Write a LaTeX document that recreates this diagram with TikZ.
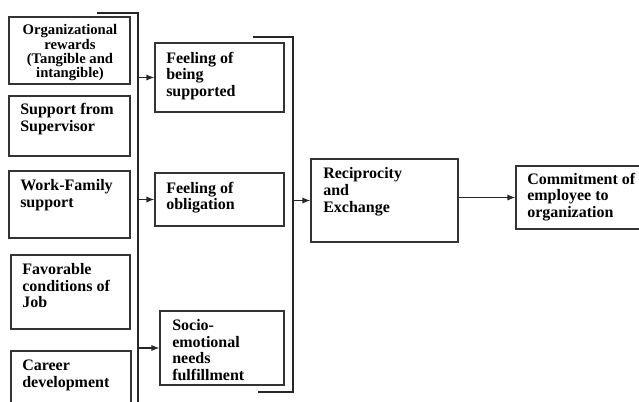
\documentclass[tikz,border=0pt]{standalone}
\usepackage{fontspec}
\setmainfont{Liberation Serif}
\usetikzlibrary{fit,arrows.meta}
\begin{document}
\begin{tikzpicture}[x=0.75pt,y=-0.75pt,
  box/.style={draw=black!80,line width=0.8pt,inner sep=0pt},
  txt/.style={anchor=north west,inner sep=0pt,align=left,font=\fontsize{12}{12.5}\selectfont\bfseries},
  ln/.style={draw=black!85,line width=0.8pt},
  arr/.style={ln,-{Latex[length=6pt,width=4.5pt]}}]
\useasboundingbox (0,0) rectangle (639,401);

% boxes on the left
\node[box,fit={(9,17) (130,84)}] (rew) {};
\node[box,fit={(9,96) (130,156)}] (sup) {};
\node[box,fit={(9,171) (130,238)}] (wf) {};
\node[box,fit={(11,255) (130,329)}] (fav) {};
\node[box,fit={(11,351) (131,412)}] (car) {};

\node[anchor=north,inner sep=0pt,align=center,font=\fontsize{11}{10.6}\selectfont\bfseries] (trew) at (70,24.5) {Organizational\\rewards\\(Tangible and\\intangible)};
\node[txt] (tsup) at (20,103) {Support from\\Supervisor};
\node[txt] (twf) at (20,179.5) {Work-Family\\support};
\node[txt] (tfav) at (22,263) {Favorable\\conditions of\\Job};
\node[txt] (tcar) at (22,359.5) {Career\\development};

% boxes in the middle
\node[box,fit={(155,43) (284,112)}] (feel) {};
\node[box,fit={(155,173) (284,226)}] (obl) {};
\node[box,fit={(160,311) (284,385)}] (soc) {};

\node[txt] (tfeel) at (166,51.5) {Feeling of\\being\\supported};
\node[txt] (tobl) at (166,181.5) {Feeling of\\obligation};
\node[txt] (tsoc) at (172,319) {Socio-\\emotional\\needs\\fulfillment};

% boxes on the right
\node[box,fit={(311,159) (458,242)}] (rec) {};
\node[box,fit={(516,166) (652,229)}] (com) {};

\node[txt] (trec) at (323,167.5) {Reciprocity\\and\\Exchange};
\node[txt] (tcom) at (527,172.5) {Commitment of\\employee to\\organization};

% brackets
\coordinate (la) at (97,13);
\coordinate (lb) at (138,13);
\coordinate (lc) at (138,405);
\draw[ln] (la) -- (lb) -- (lc);

\coordinate (ra) at (253,37);
\coordinate (rb) at (293,37);
\coordinate (rc) at (293,392);
\coordinate (rd) at (258,392);
\draw[ln] (ra) -- (rb) -- (rc) -- (rd);

% arrows
\draw[arr] (feel.west -| lb) -- (feel.west);
\draw[arr] (obl.west -| lb) -- (obl.west);
\draw[arr] (soc.west -| lb) -- (soc.west);
\draw[arr] (rec.west -| rb) -- (rec.west);
\draw[arr] (rec.east |- com.west) -- (com.west);
\end{tikzpicture}
\end{document}
